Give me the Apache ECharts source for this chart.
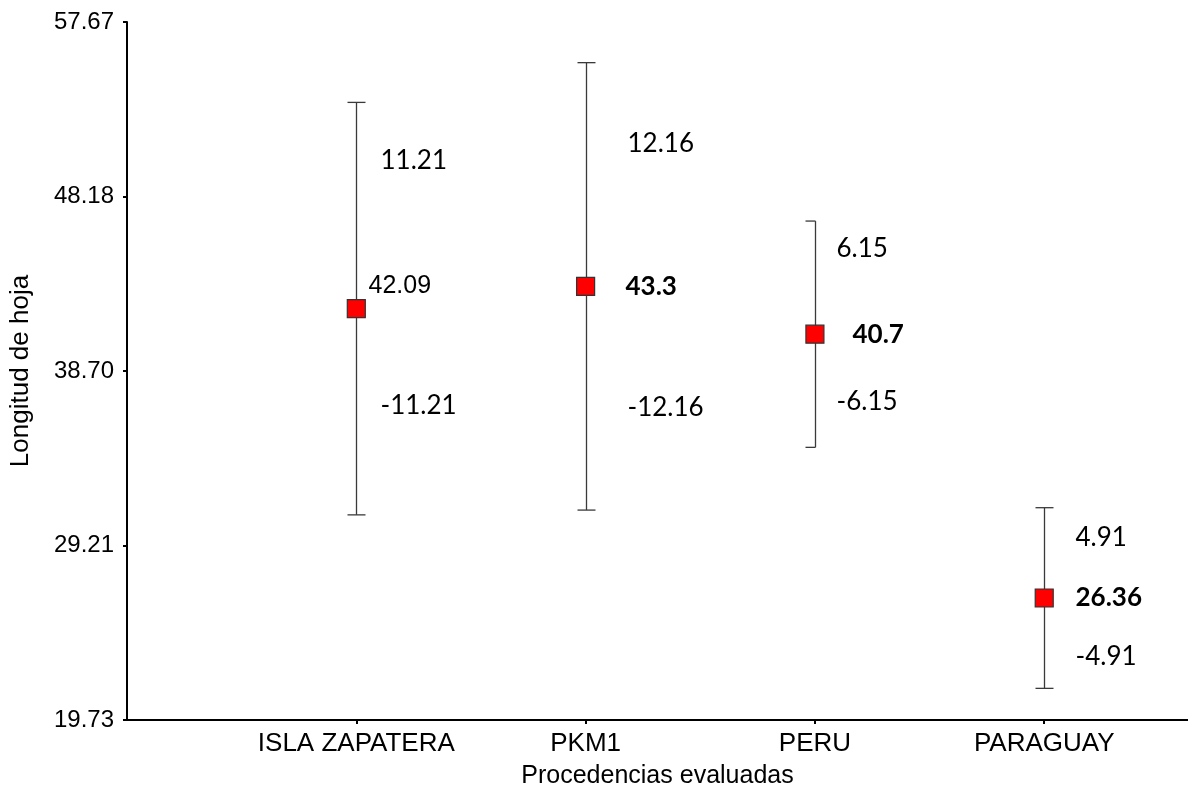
<!DOCTYPE html>
<html>
<head>
<meta charset="utf-8">
<script src="https://cdn.jsdelivr.net/npm/echarts@6/dist/echarts.min.js"></script>
<style>
  html, body { margin: 0; padding: 0; background: #ffffff; }
  #chart { width: 1188px; height: 789px; }
</style>
</head>
<body>
<div id="chart"></div>
<script>
// Leaf length by provenance: mean and deviation for each source
const categories = ['ISLA ZAPATERA', 'PKM1', 'PERU', 'PARAGUAY'];
const means = [42.09, 43.3, 40.7, 26.36];
const deviations = [11.21, 12.16, 6.15, 4.91];
const yTickLabels = ['19.73', '29.21', '38.70', '48.18', '57.67'];

// Placement of the annotation texts around each error bar
const labelLayout = [
  { upFrac: 0.72, downFrac: 0.47, dx: 24, meanDx: 12, meanDy: -23, meanBold: false, capL: 9, capR: 9 },
  { upFrac: 0.64, downFrac: 0.54, dx: 41, meanDx: 39, meanDy: 0, meanBold: true, capL: 9, capR: 9 },
  { upFrac: 0.76, downFrac: 0.6, dx: 21, meanDx: 37, meanDy: 0, meanBold: true, capL: 10, capR: 0 },
  { upFrac: 0.67, downFrac: 0.65, dx: 31, meanDx: 31, meanDy: 0, meanBold: true, capL: 9, capR: 9 }
];

const SANS = '"Liberation Sans", Arial, sans-serif';
const LABEL_FONT = 'Lato, "Open Sans", sans-serif';
const yTicks = yTickLabels.map(Number);
const xPositions = categories.map((c, i) => i + 1);

const barData = categories.map((c, i) => [xPositions[i], means[i], deviations[i], i]);
const pointData = categories.map((c, i) => [xPositions[i], means[i]]);

function renderErrorBar(params, api) {
  const x = api.value(0);
  const mean = api.value(1);
  const dev = api.value(2);
  const idx = api.value(3);
  const lay = labelLayout[idx];
  const top = api.coord([x, mean + dev]);
  const mid = api.coord([x, mean]);
  const bot = api.coord([x, mean - dev]);
  const px = Math.round(top[0]) + 0.5;
  const lineStyle = { stroke: '#3a3a3a', lineWidth: 1.3 };
  const children = [
    { type: 'line', shape: { x1: px, y1: top[1], x2: px, y2: bot[1] }, style: lineStyle },
    { type: 'line', shape: { x1: px - lay.capL, y1: top[1], x2: px + lay.capR, y2: top[1] }, style: lineStyle },
    { type: 'line', shape: { x1: px - lay.capL, y1: bot[1], x2: px + lay.capR, y2: bot[1] }, style: lineStyle },
    {
      type: 'text',
      style: {
        x: px + lay.dx, y: mid[1] - (mid[1] - top[1]) * lay.upFrac,
        text: deviations[idx].toFixed(2), fill: '#000',
        font: '26px ' + LABEL_FONT, align: 'left', verticalAlign: 'middle'
      }
    },
    {
      type: 'text',
      style: {
        x: px + lay.dx, y: mid[1] + (bot[1] - mid[1]) * lay.downFrac,
        text: '-' + deviations[idx].toFixed(2), fill: '#000',
        font: '26px ' + LABEL_FONT, align: 'left', verticalAlign: 'middle'
      }
    },
    {
      type: 'text',
      style: {
        x: px + lay.meanDx, y: mid[1] + lay.meanDy,
        text: String(means[idx]), fill: '#000',
        font: lay.meanBold ? 'bold 26px ' + LABEL_FONT : '25px ' + SANS,
        align: 'left', verticalAlign: 'middle'
      }
    }
  ];
  return { type: 'group', children: children };
}

const chart = echarts.init(document.getElementById('chart'), null, { renderer: 'canvas' });
chart.setOption({
  animation: false,
  backgroundColor: '#ffffff',
  grid: { left: 127, right: 0, top: 22, bottom: 69, containLabel: false, outerBoundsMode: 'none' },
  xAxis: {
    type: 'value',
    min: 0,
    max: 4.627,
    name: 'Procedencias evaluadas',
    nameLocation: 'middle',
    nameGap: 44,
    nameTextStyle: { fontFamily: SANS, fontSize: 25, color: '#000' },
    axisLine: { show: true, onZero: false, lineStyle: { color: '#000', width: 2 } },
    axisTick: { show: true, length: 4, lineStyle: { color: '#000', width: 2 }, customValues: xPositions },
    axisLabel: {
      show: true, margin: 11, fontFamily: SANS, fontSize: 26, color: '#000',
      customValues: xPositions,
      formatter: v => categories[Math.round(v) - 1] || ''
    },
    splitLine: { show: false }
  },
  yAxis: {
    type: 'value',
    min: yTicks[0],
    max: yTicks[yTicks.length - 1],
    name: 'Longitud de hoja',
    nameLocation: 'middle',
    nameGap: 93,
    nameTextStyle: { fontFamily: SANS, fontSize: 26, color: '#000' },
    axisLine: { show: true, lineStyle: { color: '#000', width: 2 } },
    axisTick: { show: true, length: 4, lineStyle: { color: '#000', width: 2 }, customValues: yTicks },
    axisLabel: {
      show: true, margin: 13, fontFamily: SANS, fontSize: 24, color: '#000',
      customValues: yTicks,
      formatter: v => {
        const i = yTicks.findIndex(t => Math.abs(t - v) < 1e-6);
        return i >= 0 ? yTickLabels[i] : '';
      }
    },
    splitLine: { show: false }
  },
  series: [
    {
      type: 'custom',
      renderItem: renderErrorBar,
      data: barData,
      encode: { x: 0, y: [1] },
      z: 2,
      clip: false
    },
    {
      type: 'scatter',
      data: pointData,
      symbol: 'rect',
      symbolSize: 18,
      itemStyle: { color: '#ff0000', borderColor: '#333333', borderWidth: 1.2, opacity: 1 },
      z: 3
    }
  ]
});
</script>
</body>
</html>
